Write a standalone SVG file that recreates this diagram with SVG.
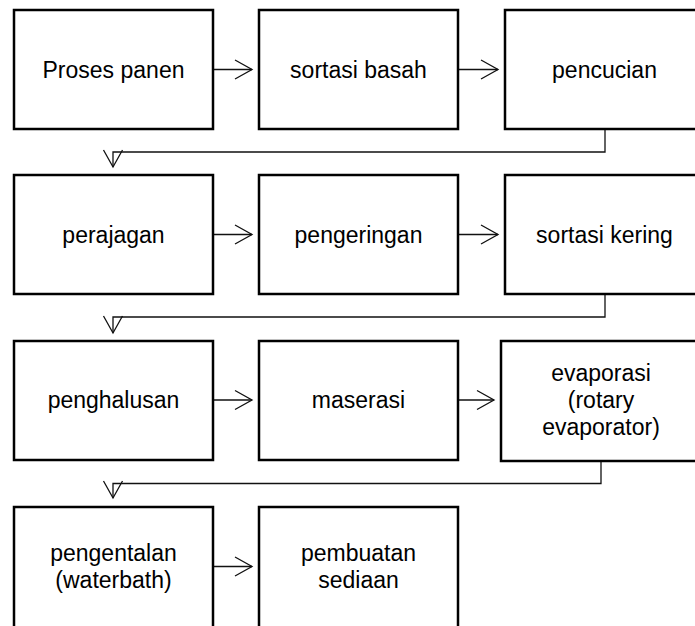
<svg xmlns="http://www.w3.org/2000/svg" width="695" height="626" viewBox="0 0 695 626">
<style>
.box{fill:#fff;stroke:#000;stroke-width:2.5}
.lbl{font-family:"Liberation Sans",Arial,sans-serif;font-size:23px;fill:#000;text-anchor:middle}
.con{fill:none;stroke:#111;stroke-width:1.3;marker-end:url(#arr)}
</style>
<defs>
<marker id="arr" markerUnits="userSpaceOnUse" markerWidth="40" markerHeight="40" refX="0" refY="0" orient="auto" overflow="visible">
<path d="M-17,-9.5 L0,0 L-17,9.5" fill="none" stroke="#111" stroke-width="1.3"/>
</marker>
</defs>
<rect width="695" height="626" fill="#fff"/>
<g id="connectors">
<path class="con" d="M214,69.5 H252"/>
<path class="con" d="M459,69.5 H498"/>
<path class="con" d="M605,129 V152 H113 V167"/>
<path class="con" d="M214,234.5 H252"/>
<path class="con" d="M459,234.5 H498"/>
<path class="con" d="M605,294 V317 H113 V333"/>
<path class="con" d="M214,400 H252"/>
<path class="con" d="M459,400 H494"/>
<path class="con" d="M601,461 V483.5 H113 V498"/>
<path class="con" d="M214,566.5 H252"/>
</g>
<g id="n1"><rect class="box" x="14" y="10" width="199" height="119"/><text class="lbl" x="113.5" y="77.5">Proses panen</text></g>
<g id="n2"><rect class="box" x="259" y="10" width="199" height="119"/><text class="lbl" x="358.5" y="77.5">sortasi basah</text></g>
<g id="n3"><rect class="box" x="505" y="10" width="199" height="119"/><text class="lbl" x="604.5" y="77.5">pencucian</text></g>
<g id="n4"><rect class="box" x="14" y="175" width="199" height="119"/><text class="lbl" x="113.5" y="242.5">perajagan</text></g>
<g id="n5"><rect class="box" x="259" y="175" width="199" height="119"/><text class="lbl" x="358.5" y="242.5">pengeringan</text></g>
<g id="n6"><rect class="box" x="505" y="175" width="199" height="119"/><text class="lbl" x="604.5" y="242.5">sortasi kering</text></g>
<g id="n7"><rect class="box" x="14" y="341" width="199" height="119"/><text class="lbl" x="113.5" y="408">penghalusan</text></g>
<g id="n8"><rect class="box" x="259" y="341" width="199" height="119"/><text class="lbl" x="358.5" y="408">maserasi</text></g>
<g id="n9"><rect class="box" x="501" y="341" width="199" height="120"/><text class="lbl" x="601" y="381">evaporasi</text><text class="lbl" x="601" y="408">(rotary</text><text class="lbl" x="601" y="435">evaporator)</text></g>
<g id="n10"><rect class="box" x="14" y="507" width="199" height="121"/><text class="lbl" x="113.5" y="560.5">pengentalan</text><text class="lbl" x="113.5" y="587.5">(waterbath)</text></g>
<g id="n11"><rect class="box" x="259" y="507" width="199" height="121"/><text class="lbl" x="358.5" y="560.5">pembuatan</text><text class="lbl" x="358.5" y="587.5">sediaan</text></g>
</svg>
